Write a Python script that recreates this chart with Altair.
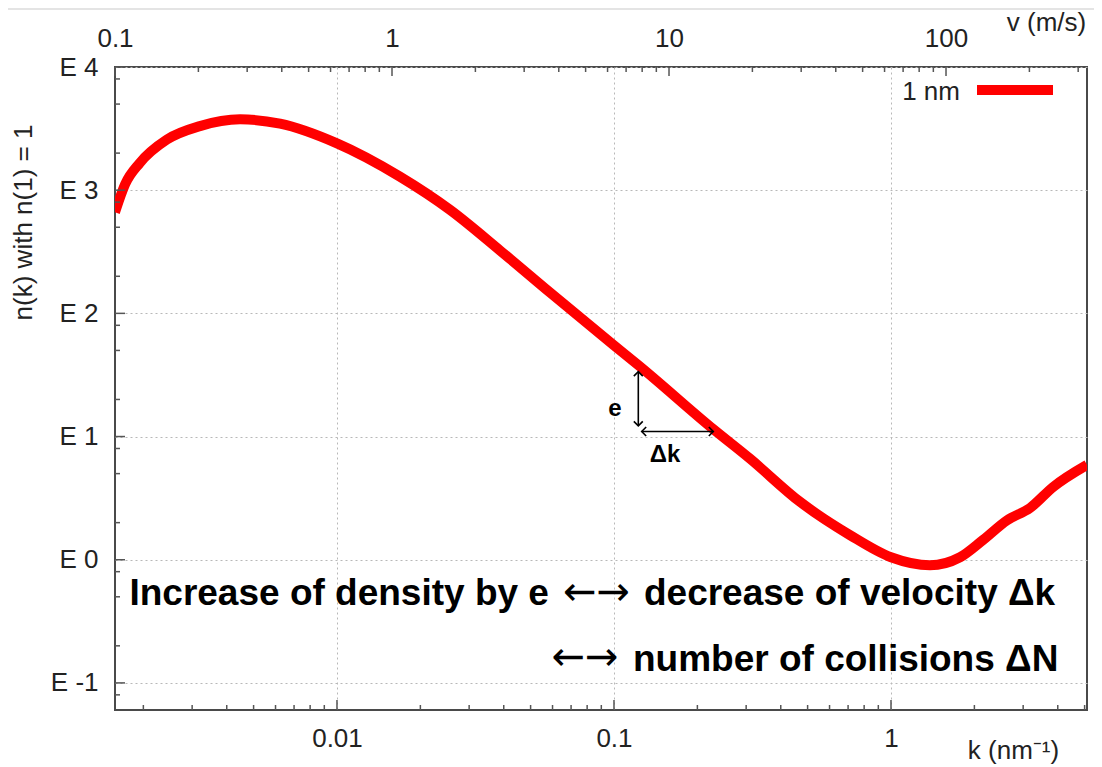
import altair as alt
import pandas as pd

# ---- data ----
k_vals = [0.00158, 0.00172, 0.00194, 0.00243, 0.00320, 0.00447, 0.00623, 0.0100,
          0.01687, 0.0256, 0.0388, 0.0587, 0.100, 0.1224, 0.2283, 0.3097, 0.4693,
          0.711, 1.0, 1.383, 1.775, 2.148, 2.623, 3.176, 3.845, 5.1]
n_vals = [2.82, 3.05, 3.22, 3.41, 3.52, 3.575, 3.54, 3.38,
          3.11, 2.84, 2.51, 2.17, 1.74, 1.58, 1.06, 0.82, 0.47,
          0.20, 0.02, -0.045, 0.02, 0.16, 0.32, 0.42, 0.59, 0.77]

K_DOMAIN = [0.00158, 5.1]
V_PER_K = 63.3                      # v (m/s) per k (nm^-1)
V_DOMAIN = [0.1, 5.1 * 63.3]
Y_DOMAIN = [-1.22, 4.0]

k_major = [0.01, 0.1, 1]
k_minor = [m * d for d in [0.001, 0.01, 0.1, 1] for m in range(2, 10)
           if K_DOMAIN[0] <= m * d <= K_DOMAIN[1]]
v_major = [0.1, 1, 10, 100]
v_minor = [m * d for d in [0.1, 1, 10, 100] for m in range(2, 10)
           if V_DOMAIN[0] <= m * d <= V_DOMAIN[1]]
y_major = [-1, 0, 1, 2, 3, 4]
y_minor = [round(e + o, 3) for e in range(-2, 4) for o in (0.301, 0.699, 0.903)
           if Y_DOMAIN[0] <= e + o <= Y_DOMAIN[1]]

FONT = "Liberation Sans"
FS = 26
W, H = 972, 643

curve = pd.DataFrame({"k": k_vals, "n": n_vals})
curve["v"] = curve["k"] * V_PER_K

xs = alt.Scale(type="log", domain=K_DOMAIN, nice=False)
vs = alt.Scale(type="log", domain=V_DOMAIN, nice=False)
ys = alt.Scale(domain=Y_DOMAIN, nice=False, zero=False)

y_axis = alt.Axis(values=y_major, labelExpr="'E ' + datum.value", grid=True,
                  gridDash=[2, 3], gridColor="#b8b8b8", gridWidth=1,
                  ticks=False, domain=False, labelPadding=17, labelFontSize=FS,
                  labelFlush=False, labelColor="#222", title="n(k) with n(1) = 1",
                  titleFontSize=FS, titleFontWeight="normal", titleColor="#222",
                  titleAngle=270, titleX=-92, titleY=155, titleAlign="center",
                  titleBaseline="middle")

x_axis = alt.Axis(values=k_major, format="~g", grid=True, gridDash=[2, 3],
                  gridColor="#b8b8b8", gridWidth=1, ticks=False, domain=False,
                  labelPadding=15, labelFontSize=FS, labelFlush=False, labelColor="#222",
                  title="k (nm\u207b\u00b9)", titleFontSize=FS, titleFontWeight="normal",
                  titleColor="#222", titleX=898, titleY=40, titleAlign="center",
                  titleBaseline="middle")

v_axis = alt.Axis(orient="top", values=v_major, format="~g", grid=False,
                  ticks=False, domain=False, labelPadding=16, labelFontSize=FS,
                  labelFlush=False, labelColor="#222", title="v (m/s)", titleFontSize=FS,
                  titleFontWeight="normal", titleColor="#222", titleX=931,
                  titleY=-45, titleAlign="center", titleBaseline="middle")


def X(field="k:Q", **kw):
    return alt.X(field, scale=xs, axis=x_axis, **kw)


def Y(field="n:Q", **kw):
    return alt.Y(field, scale=ys, axis=y_axis, **kw)


line = alt.Chart(curve).mark_line(color="#ff0000", strokeWidth=10, clip=True,
                                  interpolate="monotone").encode(x=X(), y=Y())

tick_color = "#555555"
kmaj = alt.Chart(pd.DataFrame({"k": k_major})).mark_rule(color=tick_color, strokeWidth=1.5).encode(
    x=X(), y=alt.value(H), y2=alt.value(H - 10))
kmin = alt.Chart(pd.DataFrame({"k": k_minor})).mark_rule(color=tick_color, strokeWidth=1.5).encode(
    x=X(), y=alt.value(H), y2=alt.value(H - 5))
ymaj = alt.Chart(pd.DataFrame({"n": y_major})).mark_rule(color=tick_color, strokeWidth=1.5).encode(
    y=Y(), x=alt.value(0), x2=alt.value(10))
ymin = alt.Chart(pd.DataFrame({"n": y_minor})).mark_rule(color=tick_color, strokeWidth=1.5).encode(
    y=Y(), x=alt.value(0), x2=alt.value(5))

# annotation arrows (e and delta k)
varrow = pd.DataFrame({"k": [0.1224], "n": [1.087], "n2": [1.527]})
harrow = pd.DataFrame({"k": [0.1259], "k2": [0.2283], "n": [1.041]})
heads = pd.DataFrame({"k": [0.1224, 0.1224, 0.1259, 0.2283],
                      "n": [1.527, 1.087, 1.041, 1.041],
                      "ang": [0, 180, 270, 90]})
v_rule = alt.Chart(varrow).mark_rule(color="black", strokeWidth=1.6).encode(
    x=X(), y=Y(), y2="n2:Q")
h_rule = alt.Chart(harrow).mark_rule(color="black", strokeWidth=1.6).encode(
    x=X(), x2="k2:Q", y=Y())
head_pts = alt.Chart(heads).mark_point(shape="M -1 1 L 0 0 L 1 1", filled=False,
                                       color="black", strokeWidth=1.6, size=80,
                                       opacity=1).encode(
    x=X(), y=Y(), angle=alt.Angle("ang:Q", scale=None))

small_lbl = pd.DataFrame({"k": [0.1008, 0.1528], "n": [1.225, 0.852], "t": ["e", "\u0394k"]})
small_txt = alt.Chart(small_lbl).mark_text(font=FONT, fontSize=24, fontWeight="bold",
                                            color="black", align="center",
                                            baseline="middle").encode(
    x=X(), y=Y(), text="t:N")

# big annotation text, split so that the arrows can use a wider glyph
words = pd.DataFrame({
    "k": [0.05824, 0.1283, 0.1171],
    "n": [-0.365, -0.365, -0.900],
    "t": ["Increase of density by e", "decrease of velocity \u0394k",
          "number of collisions \u0394N"],
    "al": ["right", "left", "left"],
})
arrows = pd.DataFrame({"k": [0.08646, 0.07857], "n": [-0.268, -0.795],
                       "t": ["\u2190\u2192", "\u2190\u2192"]})
txt_r = alt.Chart(words[words.al == "right"]).mark_text(
    font=FONT, fontSize=37, fontWeight="bold", color="black", align="right",
    baseline="alphabetic").encode(x=X(), y=Y(), text="t:N")
txt_l = alt.Chart(words[words.al == "left"]).mark_text(
    font=FONT, fontSize=37, fontWeight="bold", color="black", align="left",
    baseline="alphabetic").encode(x=X(), y=Y(), text="t:N")
txt_arr = alt.Chart(arrows).mark_text(
    font="DejaVu Sans", fontSize=40, color="black", align="center",
    baseline="middle").encode(x=X(), y=Y(), text="t:N")

# legend (gnuplot style: label left of sample line)
leg_df = pd.DataFrame({"label": ["1 nm"]})
leg_txt = alt.Chart(leg_df).mark_text(font=FONT, fontSize=FS, color="#222", align="right",
                                      baseline="middle").encode(
    x=alt.value(845), y=alt.value(25), text="label:N")
leg_line = alt.Chart(leg_df).mark_rule(color="#ff0000", strokeWidth=10).encode(
    x=alt.value(862), x2=alt.value(938), y=alt.value(23))

# page divider line at very top of screenshot
top_line = alt.Chart(leg_df).mark_rule(color="#e4e4e4", strokeWidth=2).encode(
    x=alt.value(-107), x2=alt.value(979), y=alt.value(-58))

k_group = alt.layer(top_line, line, kmaj, kmin, ymaj, ymin, v_rule, h_rule, head_pts,
                    small_txt, txt_r, txt_l, txt_arr, leg_txt, leg_line)

# top velocity axis
v_line = alt.Chart(curve).mark_line(opacity=0).encode(
    x=alt.X("v:Q", scale=vs, axis=v_axis), y=Y())
vmaj = alt.Chart(pd.DataFrame({"v": v_major})).mark_rule(color=tick_color, strokeWidth=1.5).encode(
    x=alt.X("v:Q", scale=vs, axis=v_axis), y=alt.value(0), y2=alt.value(9))
vmin = alt.Chart(pd.DataFrame({"v": v_minor})).mark_rule(color=tick_color, strokeWidth=1.5).encode(
    x=alt.X("v:Q", scale=vs, axis=v_axis), y=alt.value(0), y2=alt.value(5))
v_group = alt.layer(v_line, vmaj, vmin)

chart = alt.layer(k_group, v_group).resolve_scale(x="independent").properties(
    width=W, height=H,
    autosize=alt.AutoSizeParams(type="none"),
    padding={"left": 107, "top": 59, "right": 7, "bottom": 56},
    background="white",
).configure_view(stroke="#4a4a4a", strokeWidth=2).configure_axis(
    labelFont=FONT, titleFont=FONT
).configure_text(font=FONT)

chart.save("out.html", embed_options={"renderer": "svg", "actions": False})
